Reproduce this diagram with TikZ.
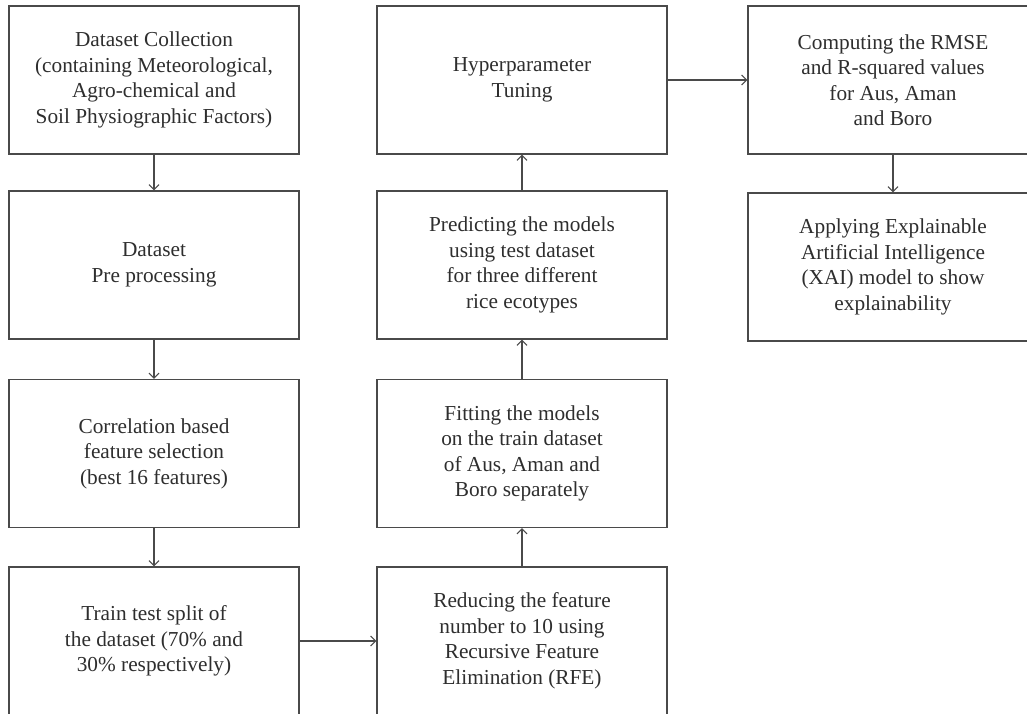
\documentclass[tikz,border=0pt]{standalone}
\usepackage{fontspec}
\setmainfont{Liberation Serif}
\usetikzlibrary{arrows.meta}
\definecolor{linec}{HTML}{4A4A4A}
\definecolor{textc}{HTML}{2E2E2E}
\tikzset{
  stepbox/.style={draw=linec, line width=1.3bp, minimum width=290bp, minimum height=148bp,
    align=center, text=textc, inner sep=0pt,
    font=\fontsize{21.3bp}{25.5bp}\selectfont},
  flow/.style={draw=linec, line width=1.3bp, -{Straight Barb[length=5bp,width=10bp,line width=1.1bp]}}
}
\begin{document}
\begin{tikzpicture}[x=1bp,y=-1bp]
\useasboundingbox (0,0) rectangle (1027,714);
\clip (0,0) rectangle (1027,714);
\fill[white] (0,0) rectangle (1027,714);
% column 1
\node[stepbox] (a1) at (154,80) {Dataset Collection\\(containing Meteorological,\\Agro-chemical and\\Soil Physiographic Factors)};
\node[stepbox] (a2) at (154,265) {Dataset\\Pre processing};
\node[stepbox] (a3) at (154,453.5) {Correlation based\\feature selection\\(best 16 features)};
\node[stepbox] (a4) at (154,641) {Train test split of\\the dataset (70\% and\\30\% respectively)};
% column 2
\node[stepbox] (b4) at (522,641) {Reducing the feature\\number to 10 using\\Recursive Feature\\Elimination (RFE)};
\node[stepbox] (b3) at (522,453.5) {Fitting the models\\on the train dataset\\of Aus, Aman and\\Boro separately};
\node[stepbox] (b2) at (522,265) {Predicting the models\\using test dataset\\for three different\\rice ecotypes};
\node[stepbox] (b1) at (522,80) {Hyperparameter\\Tuning};
% column 3
\node[stepbox] (c1) at (893,80) {Computing the RMSE\\and R-squared values\\for Aus, Aman\\and Boro};
\node[stepbox] (c2) at (893,267) {Applying Explainable\\Artificial Intelligence\\(XAI) model to show\\explainability};
% connectors
\draw[flow] (a1) -- (a2);
\draw[flow] (a2) -- (a3);
\draw[flow] (a3) -- (a4);
\draw[flow] (a4) -- (b4);
\draw[flow] (b4) -- (b3);
\draw[flow] (b3) -- (b2);
\draw[flow] (b2) -- (b1);
\draw[flow] (b1) -- (c1);
\draw[flow] (c1) -- (c2);
\end{tikzpicture}
\end{document}
